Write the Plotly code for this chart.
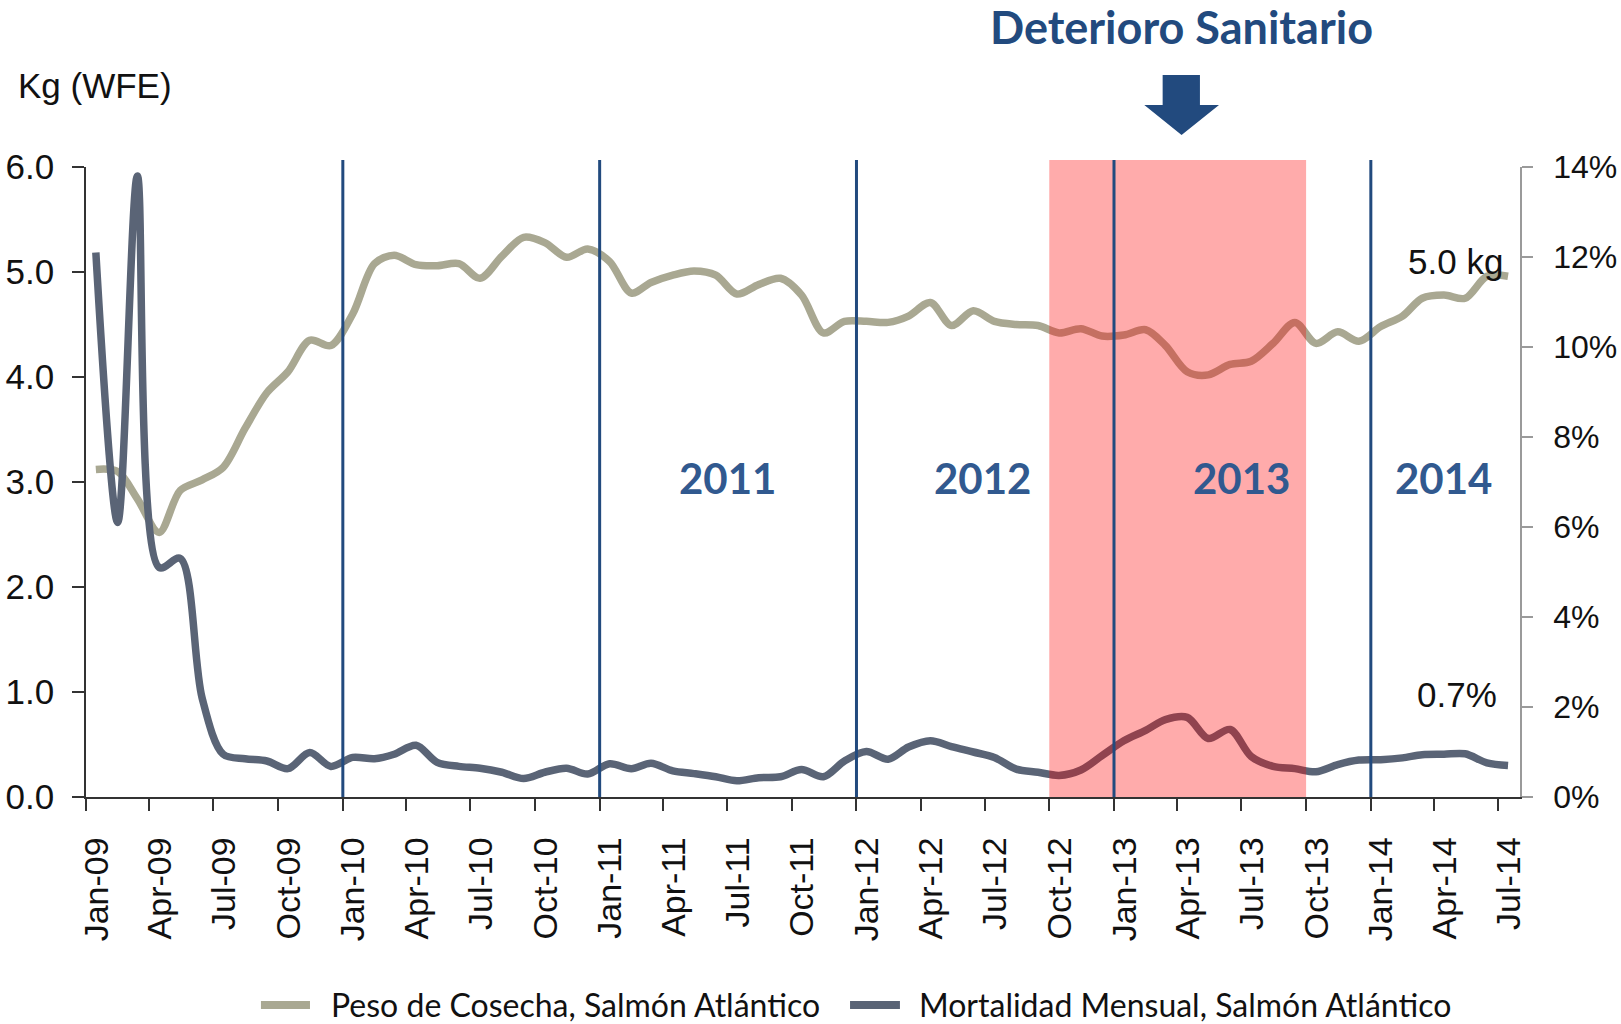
import plotly.graph_objects as go
import pandas as pd

# ---- data ----
months = pd.date_range("2009-01-01", periods=67, freq="MS") + pd.Timedelta(days=14)

peso_kg = [3.12, 3.10, 2.84, 2.52, 2.92, 3.02, 3.14, 3.51, 3.85, 4.05, 4.35, 4.30,
           4.60, 5.08, 5.16, 5.07, 5.06, 5.08, 4.94, 5.15, 5.33, 5.28, 5.14, 5.22,
           5.10, 4.80, 4.90, 4.97, 5.01, 4.97, 4.79, 4.88, 4.94, 4.78, 4.42, 4.53,
           4.53, 4.52, 4.58, 4.71, 4.49, 4.63, 4.53, 4.50, 4.49, 4.42, 4.46, 4.39,
           4.40, 4.45, 4.30, 4.05, 4.02, 4.12, 4.15, 4.32, 4.52, 4.32, 4.43, 4.34,
           4.48, 4.58, 4.75, 4.78, 4.75, 4.96, 4.96]

mortalidad_pct = [12.1, 6.1, 13.8, 5.1, 5.3, 2.2, 0.95, 0.85, 0.80, 0.63, 0.99, 0.68,
                  0.88, 0.85, 0.95, 1.15, 0.77, 0.68, 0.64, 0.55, 0.41, 0.55, 0.64, 0.51,
                  0.74, 0.63, 0.75, 0.58, 0.52, 0.45, 0.36, 0.43, 0.45, 0.61, 0.45, 0.80,
                  1.01, 0.84, 1.11, 1.25, 1.12, 1.00, 0.88, 0.62, 0.55, 0.48, 0.60, 0.92,
                  1.25, 1.48, 1.72, 1.77, 1.30, 1.50, 0.90, 0.68, 0.63, 0.56, 0.72, 0.82,
                  0.83, 0.87, 0.94, 0.95, 0.96, 0.76, 0.70]

tick_labels = ["Jan-09", "Apr-09", "Jul-09", "Oct-09", "Jan-10", "Apr-10", "Jul-10", "Oct-10",
               "Jan-11", "Apr-11", "Jul-11", "Oct-11", "Jan-12", "Apr-12", "Jul-12", "Oct-12",
               "Jan-13", "Apr-13", "Jul-13", "Oct-13", "Jan-14", "Apr-14", "Jul-14"]
tick_dates = list(pd.date_range("2009-01-01", periods=len(tick_labels), freq="3MS"))
label_dates = [d + pd.Timedelta(days=15) for d in tick_dates]  # labels centred in month

year_lines = ["2010-01-01", "2011-01-01", "2012-01-01", "2013-01-01", "2014-01-01"]
crisis_start, crisis_end = "2012-10-01", "2013-10-01"

year_labels = ["2011", "2012", "2013", "2014"]
year_label_x = ["2011-07-01", "2012-06-28", "2013-07-01", "2014-04-14"]

series_names = ["Peso de Cosecha, Salmón Atlántico", "Mortalidad Mensual, Salmón Atlántico"]

# ---- styles ----
C_PESO = "#A9A892"
C_MORT = "#5A6476"
C_BLUE = "#224A7E"
C_YEAR = "#31598F"
FONT_FAM = "Liberation Sans, Arial"
TICKFONT = dict(family=FONT_FAM, size=35, color="#111111")

fig = go.Figure()
fig.add_trace(go.Scatter(x=months, y=peso_kg, name=series_names[0], mode="lines",
                         line=dict(color=C_PESO, width=7.5, shape="spline", smoothing=0.9),
                         yaxis="y", showlegend=False))
fig.add_trace(go.Scatter(x=months, y=mortalidad_pct, name=series_names[1], mode="lines",
                         line=dict(color=C_MORT, width=7.5, shape="spline", smoothing=0.9),
                         yaxis="y2", showlegend=False))

shapes = [dict(type="rect", xref="x", yref="paper", x0=crisis_start, x1=crisis_end,
               y0=0, y1=1.011, fillcolor="rgba(255,0,0,0.33)", line=dict(width=0),
               layer="above")]
for d in year_lines:
    shapes.append(dict(type="line", xref="x", yref="paper", x0=d, x1=d, y0=0, y1=1.011,
                       line=dict(color=C_BLUE, width=3), layer="above"))
shapes.append(dict(type="path", xref="paper", yref="paper",
                   path="M 0.7508,1.1460 L 0.7768,1.1460 L 0.7768,1.0984 L 0.7901,1.0984 "
                        "L 0.7640,1.0508 L 0.7380,1.0984 L 0.7508,1.0984 Z",
                   fillcolor=C_BLUE, line=dict(width=0)))

# custom legend (symbols + text)
legend_items = [(series_names[0], C_PESO, 0.1220, 0.1562, 0.1695),
                (series_names[1], C_MORT, 0.5328, 0.5676, 0.5795)]
LEG_Y = -0.330
for name, col, sx0, sx1, tx in legend_items:
    shapes.append(dict(type="line", xref="paper", yref="paper", x0=sx0, x1=sx1,
                       y0=LEG_Y, y1=LEG_Y, line=dict(color=col, width=8)))

annotations = []
for name, col, sx0, sx1, tx in legend_items:
    annotations.append(dict(x=tx, y=LEG_Y, xref="paper", yref="paper", text=name,
                            showarrow=False, xanchor="left", yanchor="middle",
                            font=dict(family="Lato", size=32, color="#111111")))
for lab, xd in zip(year_labels, year_label_x):
    annotations.append(dict(x=xd, y=0.507, xref="x", yref="paper", text=lab, showarrow=False,
                            xanchor="center", yanchor="middle",
                            font=dict(family="Lato", size=42, color=C_YEAR, weight="bold")))
annotations += [
    dict(x="2014-05-01", y=0.850, xref="x", yref="paper", text="5.0 kg", showarrow=False,
         xanchor="center", yanchor="middle", font=TICKFONT),
    dict(x="2014-05-03", y=0.163, xref="x", yref="paper", text="0.7%", showarrow=False,
         xanchor="center", yanchor="middle", font=TICKFONT),
    dict(x=-0.049, y=1.129, xref="paper", yref="paper", text="Kg (WFE)", showarrow=False,
         xanchor="left", yanchor="middle", font=TICKFONT),
    dict(x=0.764, y=1.2222, xref="paper", yref="paper", text="Deterioro Sanitario",
         showarrow=False, xanchor="center", yanchor="middle",
         font=dict(family="Lato", size=45, color=C_BLUE, weight="bold")),
]

fig.update_layout(
    width=1621, height=1024,
    margin=dict(l=86, r=101, t=167, b=227),
    paper_bgcolor="white", plot_bgcolor="white",
    showlegend=False,
    shapes=shapes, annotations=annotations,
    xaxis=dict(type="date", range=["2009-01-01", "2014-08-01"], tickvals=label_dates,
               ticktext=tick_labels, tickangle=-90,
               tickfont=dict(family=FONT_FAM, size=34, color="#111111"),
               ticklabelstandoff=13, automargin=False,
               showline=True, linecolor="#333333", linewidth=1.5, ticks="outside",
               ticklen=12, tickwidth=1.5, tickcolor="rgba(0,0,0,0)",
               minor=dict(tickvals=tick_dates, ticks="outside", ticklen=12, tickwidth=1.5,
                          tickcolor="#333333", showgrid=False),
               showgrid=False, zeroline=False),
    yaxis=dict(range=[0, 6], dtick=1, tickformat=".1f", tickfont=TICKFONT,
               ticklabelstandoff=11, automargin=False,
               showline=True, linecolor="#333333", linewidth=1.5, ticks="outside",
               ticklen=12, tickwidth=1.5, tickcolor="#333333", showgrid=False,
               zeroline=False),
    yaxis2=dict(range=[0, 14], dtick=2, ticksuffix="%",
                tickfont=dict(family=FONT_FAM, size=32, color="#111111"),
                ticklabelstandoff=14, automargin=False,
                overlaying="y", side="right", showline=True, linecolor="#9A9A9A",
                linewidth=1.5, ticks="outside", ticklen=11, tickwidth=1.5,
                tickcolor="#9A9A9A", showgrid=False, zeroline=False),
)

fig.write_html("out.html", config={"displayModeBar": False},
               post_script="document.body.style.margin='0';")
